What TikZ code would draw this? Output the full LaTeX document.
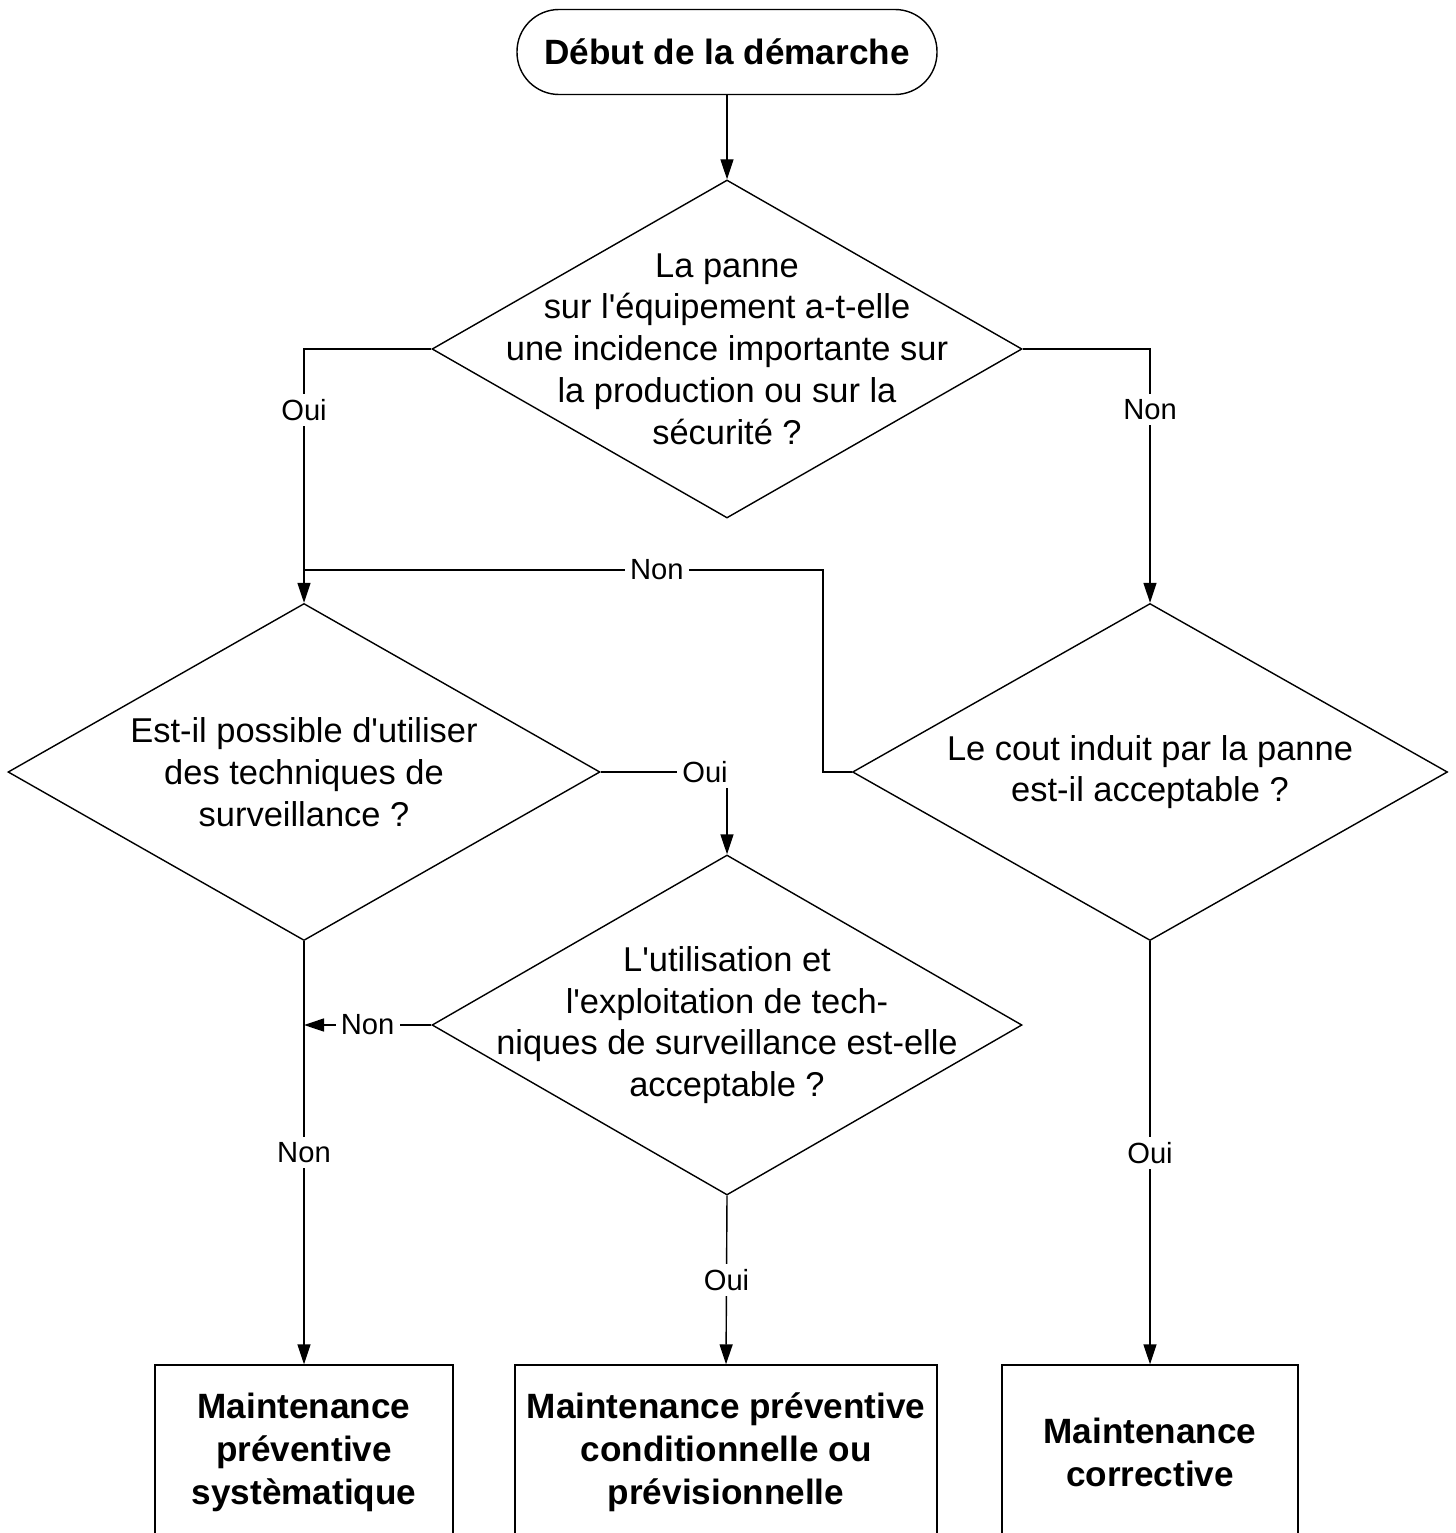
\documentclass[tikz,border=0pt]{standalone}
\usepackage{fontspec}
\setmainfont{Liberation Sans}[Ligatures = TeXOff]
\usetikzlibrary{shapes.geometric, arrows.meta}
\tikzset{
    >={Triangle[length = 2mm, width = 1.3mm]},
    losange/.style = {draw, diamond, inner sep = 0pt},
    boite/.style = {draw, rectangle, minimum height = 1.75cm, align = center, font = \fontsize{10}{12.2}\selectfont\bfseries},
    txt/.style = {align = center, font = \fontsize{9.8}{11.9}\selectfont},
    lbl/.style = {fill = white, inner sep = 1.5pt, font = \fontsize{8.3}{10}\selectfont}
}
\begin{document}
\begin{tikzpicture}[line width = 0.4pt]
    \useasboundingbox (0,0) rectangle (14.56,-15.33);
    \node[draw, rounded corners = 0.42cm, minimum width = 4.2cm, minimum height = 0.85cm, font = \fontsize{10}{12}\selectfont\bfseries] (a) at (7.27,-0.52) {Début de la démarche};
    \node[losange, minimum width = 5.9cm, minimum height = 3.38cm, label = {[txt]center:La panne\\sur l'équipement a-t-elle\\une incidence importante sur\\la production ou sur la\\sécurité ?}] (b) at (7.27,-3.49) {};
    \node[losange, minimum width = 5.92cm, minimum height = 3.37cm, label = {[txt]center:Est-il possible d'utiliser\\des techniques de\\surveillance ?}] (c) at (3.04,-7.72) {};
    \node[losange, minimum width = 5.95cm, minimum height = 3.37cm, label = {[txt]center:Le cout induit par la panne\\est-il acceptable ?}] (d) at (11.5,-7.72) {};
    \node[losange, minimum width = 5.9cm, minimum height = 3.4cm, label = {[txt]center:L'utilisation et\\l'exploitation de tech-\\niques de surveillance est-elle\\acceptable ?}] (e) at (7.27,-10.25) {};
    % boites du bas
    \node[boite, minimum width = 2.98cm] (f) at (3.04,-14.525) {Maintenance\\préventive\\systèmatique};
    \node[boite, minimum width = 4.22cm] (g) at (7.26,-14.525) {Maintenance préventive\\conditionnelle ou\\prévisionnelle};
    \node[boite, minimum width = 2.96cm] (h) at (11.5,-14.525) {Maintenance\\corrective};
    \coordinate (k) at (8.23,-5.7);
    \draw[->] (a) -- (b);
    \draw[->] (b.west) -| node[lbl, pos = 0.62] {Oui} (c.north);
    \draw[->] (b.east) -| node[lbl, pos = 0.62] {Non} (d.north);
    \draw (d.west) -| (k) -- node[lbl, pos = 0.32] {Non} (k -| c.north);
    \draw[->] (c.east) -| node[lbl, pos = 0.5, xshift = -2.2mm] {Oui} (e.north);
    \draw[->] (e.west) -- node[lbl] {Non} (e.west -| c.south);
    \draw[->] (c.south) -- node[lbl] {Non} (f.north);
    \draw[->] (e.south) -- node[lbl] {Oui} (g.north);
    \draw[->] (d.south) -- node[lbl] {Oui} (h.north);
\end{tikzpicture}
\end{document}
